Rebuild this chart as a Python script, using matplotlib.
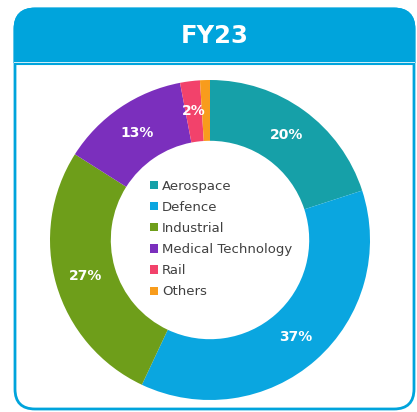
import numpy as np
import matplotlib.pyplot as plt
from matplotlib.patches import FancyBboxPatch, Rectangle

title = 'FY23'
segments = ['Aerospace', 'Defence', 'Industrial', 'Medical Technology', 'Rail', 'Others']
shares = [20, 37, 27, 13, 2, 1]
colors = ['#16a0a8', '#0aa6e0', '#6e9e1a', '#7b2fbd', '#f2426b', '#f89c1c']

blue = '#00a4dc'

W, H = 417, 412
fig = plt.figure(figsize=(W / 100, H / 100), dpi=100)

# card background in pixel coords
bg = fig.add_axes([0, 0, 1, 1])
bg.set_xlim(0, W)
bg.set_ylim(H, 0)
bg.axis('off')

# card body: white with blue border
bg.add_patch(FancyBboxPatch((15, 9), 399, 400, boxstyle='round,pad=0,rounding_size=20',
                            facecolor='white', edgecolor=blue, lw=2))
# header: same shape, filled, clipped to the top band
head = FancyBboxPatch((15, 9), 399, 400, boxstyle='round,pad=0,rounding_size=20',
                      facecolor=blue, edgecolor=blue, lw=2)
bg.add_patch(head)
head.set_clip_path(Rectangle((0, 0), W, 62.5, transform=bg.transData))
bg.plot([14, 415], [62.6, 62.6], color='white', lw=1.2, solid_capstyle='butt')
bg.plot([14, 415], [64.3, 64.3], color=blue, lw=1.5, solid_capstyle='butt')
bg.text(215, 36, title, color='white', fontsize=17.5, fontweight='bold',
        ha='center', va='center')

# donut
ax = fig.add_axes([50 / W, (H - 400) / H, 320 / W, 320 / H])
wedges, texts, autotexts = ax.pie(
    shares, colors=colors, startangle=90, counterclock=False,
    wedgeprops=dict(width=0.38, edgecolor='none'),
    autopct=lambda p: f'{p:.0f}%' if p >= 1.5 else '',
    pctdistance=0.81,
    textprops=dict(color='white', fontsize=10, fontweight='bold'))
ax.set_xlim(-1, 1)
ax.set_ylim(-1, 1)
ax.set_aspect('equal')

fig.legend(wedges, segments, loc='center', bbox_to_anchor=(221 / W, 1 - 239 / H),
           frameon=False, fontsize=9.5, labelcolor='#404040',
           handlelength=0.6, handleheight=0.6, handletextpad=0.35,
           labelspacing=0.62, borderpad=0)

fig.savefig('out.png', dpi=100)
